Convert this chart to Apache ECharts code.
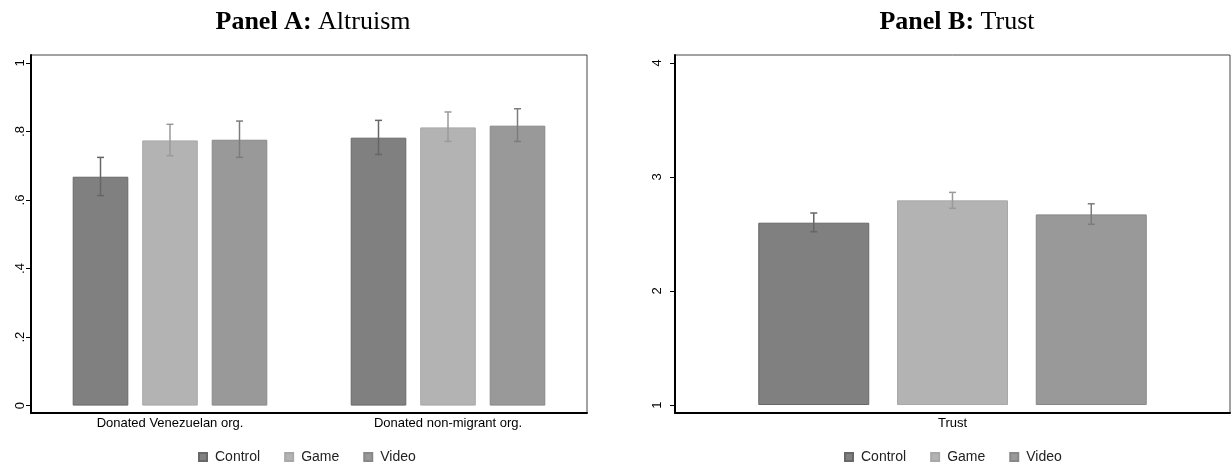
<!DOCTYPE html>
<html><head><meta charset="utf-8">
<script src="https://cdn.jsdelivr.net/npm/echarts@6/dist/echarts.min.js"></script>
<style>html,body{margin:0;padding:0;background:#fff}#c{width:1232px;height:464px}</style>
</head><body><div id="c"></div>
<script>
// ---- data ----
const seriesNames = ['Control', 'Game', 'Video'];
const catsA = ['Donated Venezuelan org.', 'Donated non-migrant org.'];
const controlA = [0.668, 0.782];
const gameA = [0.774, 0.812];
const videoA = [0.776, 0.817];
const controlA_lo = [0.613, 0.733];
const controlA_hi = [0.7245, 0.8325];
const gameA_lo = [0.7295, 0.771];
const gameA_hi = [0.821, 0.857];
const videoA_lo = [0.7245, 0.771];
const videoA_hi = [0.8305, 0.8665];
const ticksA = [0, 0.2, 0.4, 0.6, 0.8, 1];

const catsB = ['Trust'];
const controlB = [2.599];
const gameB = [2.795];
const videoB = [2.672];
const controlB_lo = [2.520];
const controlB_hi = [2.684];
const gameB_lo = [2.725];
const gameB_hi = [2.865];
const videoB_lo = [2.585];
const videoB_hi = [2.765];
const ticksB = [1, 2, 3, 4];

// ---- styles ----
const fills = ['#808080', '#b3b3b3', '#999999'];
const borders = ['#686868', '#a8a8a8', '#888888'];
const errColors = ['#666666', '#9a9a9a', '#7c7c7c'];
const CAT_GAP = 0.3, BAR_GAP = 0.25;

function fmtTick(v) {
  if (v === 0) return '0';
  if (Number.isInteger(v)) return String(v);
  return String(+v.toFixed(2)).replace(/^0\./, '.');
}

function errSeries(name, idx, axisIdx, lo, hi) {
  return {
    type: 'custom', name: name, xAxisIndex: axisIdx, yAxisIndex: axisIdx,
    z: 5, silent: true,
    data: lo.map((l, i) => [i, l, hi[i]]),
    encode: { x: 0, y: [1, 2] },
    renderItem: function (params, api) {
      const band = api.size([1, 0])[0];
      const group = band * (1 - CAT_GAP);
      const bw = group / (3 + 2 * BAR_GAP);
      const off = -group / 2 + bw / 2 + idx * bw * (1 + BAR_GAP);
      const c = api.value(0);
      const pLo = api.coord([c, api.value(1)]);
      const pHi = api.coord([c, api.value(2)]);
      const x = pLo[0] + off;
      const cap = 3.5;
      const st = { stroke: errColors[idx], lineWidth: 1.5 };
      return { type: 'group', children: [
        { type: 'line', shape: { x1: x, y1: pLo[1], x2: x, y2: pHi[1] }, style: st },
        { type: 'line', shape: { x1: x - cap, y1: pLo[1], x2: x + cap, y2: pLo[1] }, style: st },
        { type: 'line', shape: { x1: x - cap, y1: pHi[1], x2: x + cap, y2: pHi[1] }, style: st }
      ]};
    }
  };
}

function barSeries(name, idx, axisIdx, data) {
  return {
    type: 'bar', name: name, xAxisIndex: axisIdx, yAxisIndex: axisIdx,
    data: data, barCategoryGap: (CAT_GAP * 100) + '%', barGap: (BAR_GAP * 100) + '%',
    itemStyle: { color: fills[idx], borderColor: borders[idx], borderWidth: 1 },
    emphasis: { disabled: true }
  };
}

const font = 'Liberation Sans, Arial, Helvetica, sans-serif';
const serif = 'Liberation Serif, Times New Roman, serif';

function yAxisDef(gi, min, max, ticks, margin) {
  return {
    type: 'value', gridIndex: gi, min: min, max: max, startValue: min < 0 ? 0 : ticks[0],
    axisLine: { show: true, onZero: false, lineStyle: { color: '#000', width: 2 } },
    axisTick: { show: true, length: 5, lineStyle: { color: '#000', width: 1 }, customValues: ticks },
    axisLabel: { rotate: 90, margin: margin, fontSize: 13, color: '#000', fontFamily: font,
      customValues: ticks, formatter: fmtTick },
    splitLine: { show: false }
  };
}
function xAxisDef(gi, cats) {
  return {
    type: 'category', gridIndex: gi, data: cats,
    axisLine: { show: true, onZero: false, lineStyle: { color: '#000', width: 2 } },
    axisTick: { show: false },
    axisLabel: { fontSize: 13, color: '#000', fontFamily: font, margin: 4 }
  };
}

const legendCommon = {
  data: seriesNames, icon: 'rect', itemWidth: 8, itemHeight: 8, itemGap: 24,
  textStyle: { fontSize: 14, color: '#222', fontFamily: font, padding: [0, 0, 0, 3] },
  top: 445, selectedMode: false
};

const option = {
  animation: false,
  backgroundColor: '#fff',
  title: [
    { text: '{b|Panel A:} Altruism', left: 308, top: 4, textAlign: 'center',
      textStyle: { fontSize: 26, fontFamily: serif, color: '#000', fontWeight: 'normal',
        rich: { b: { fontSize: 26, fontFamily: serif, fontWeight: 'bold', color: '#000' } } } },
    { text: '{b|Panel B:} Trust', left: 952, top: 4, textAlign: 'center',
      textStyle: { fontSize: 26, fontFamily: serif, color: '#000', fontWeight: 'normal',
        rich: { b: { fontSize: 26, fontFamily: serif, fontWeight: 'bold', color: '#000' } } } }
  ],
  legend: [
    Object.assign({}, legendCommon, { left: 193 }),
    Object.assign({}, legendCommon, { left: 839 })
  ],
  grid: [
    { left: 31, right: 645, top: 55, bottom: 51, show: true, borderColor: '#444', borderWidth: 1 },
    { left: 675, right: 2, top: 55, bottom: 51, show: true, borderColor: '#444', borderWidth: 1 }
  ],
  xAxis: [xAxisDef(0, catsA), xAxisDef(1, catsB)],
  yAxis: [yAxisDef(0, -0.0216, 1.0233, ticksA, 4), yAxisDef(1, 0.93, 4.07, ticksB, 11)],
  series: [
    barSeries('Control', 0, 0, controlA),
    barSeries('Game', 1, 0, gameA),
    barSeries('Video', 2, 0, videoA),
    errSeries('Control', 0, 0, controlA_lo, controlA_hi),
    errSeries('Game', 1, 0, gameA_lo, gameA_hi),
    errSeries('Video', 2, 0, videoA_lo, videoA_hi),
    barSeries('Control', 0, 1, controlB),
    barSeries('Game', 1, 1, gameB),
    barSeries('Video', 2, 1, videoB),
    errSeries('Control', 0, 1, controlB_lo, controlB_hi),
    errSeries('Game', 1, 1, gameB_lo, gameB_hi),
    errSeries('Video', 2, 1, videoB_lo, videoB_hi)
  ]
};
const chart = echarts.init(document.getElementById('c'), null, { renderer: 'canvas' });
chart.setOption(option);
</script></body></html>
